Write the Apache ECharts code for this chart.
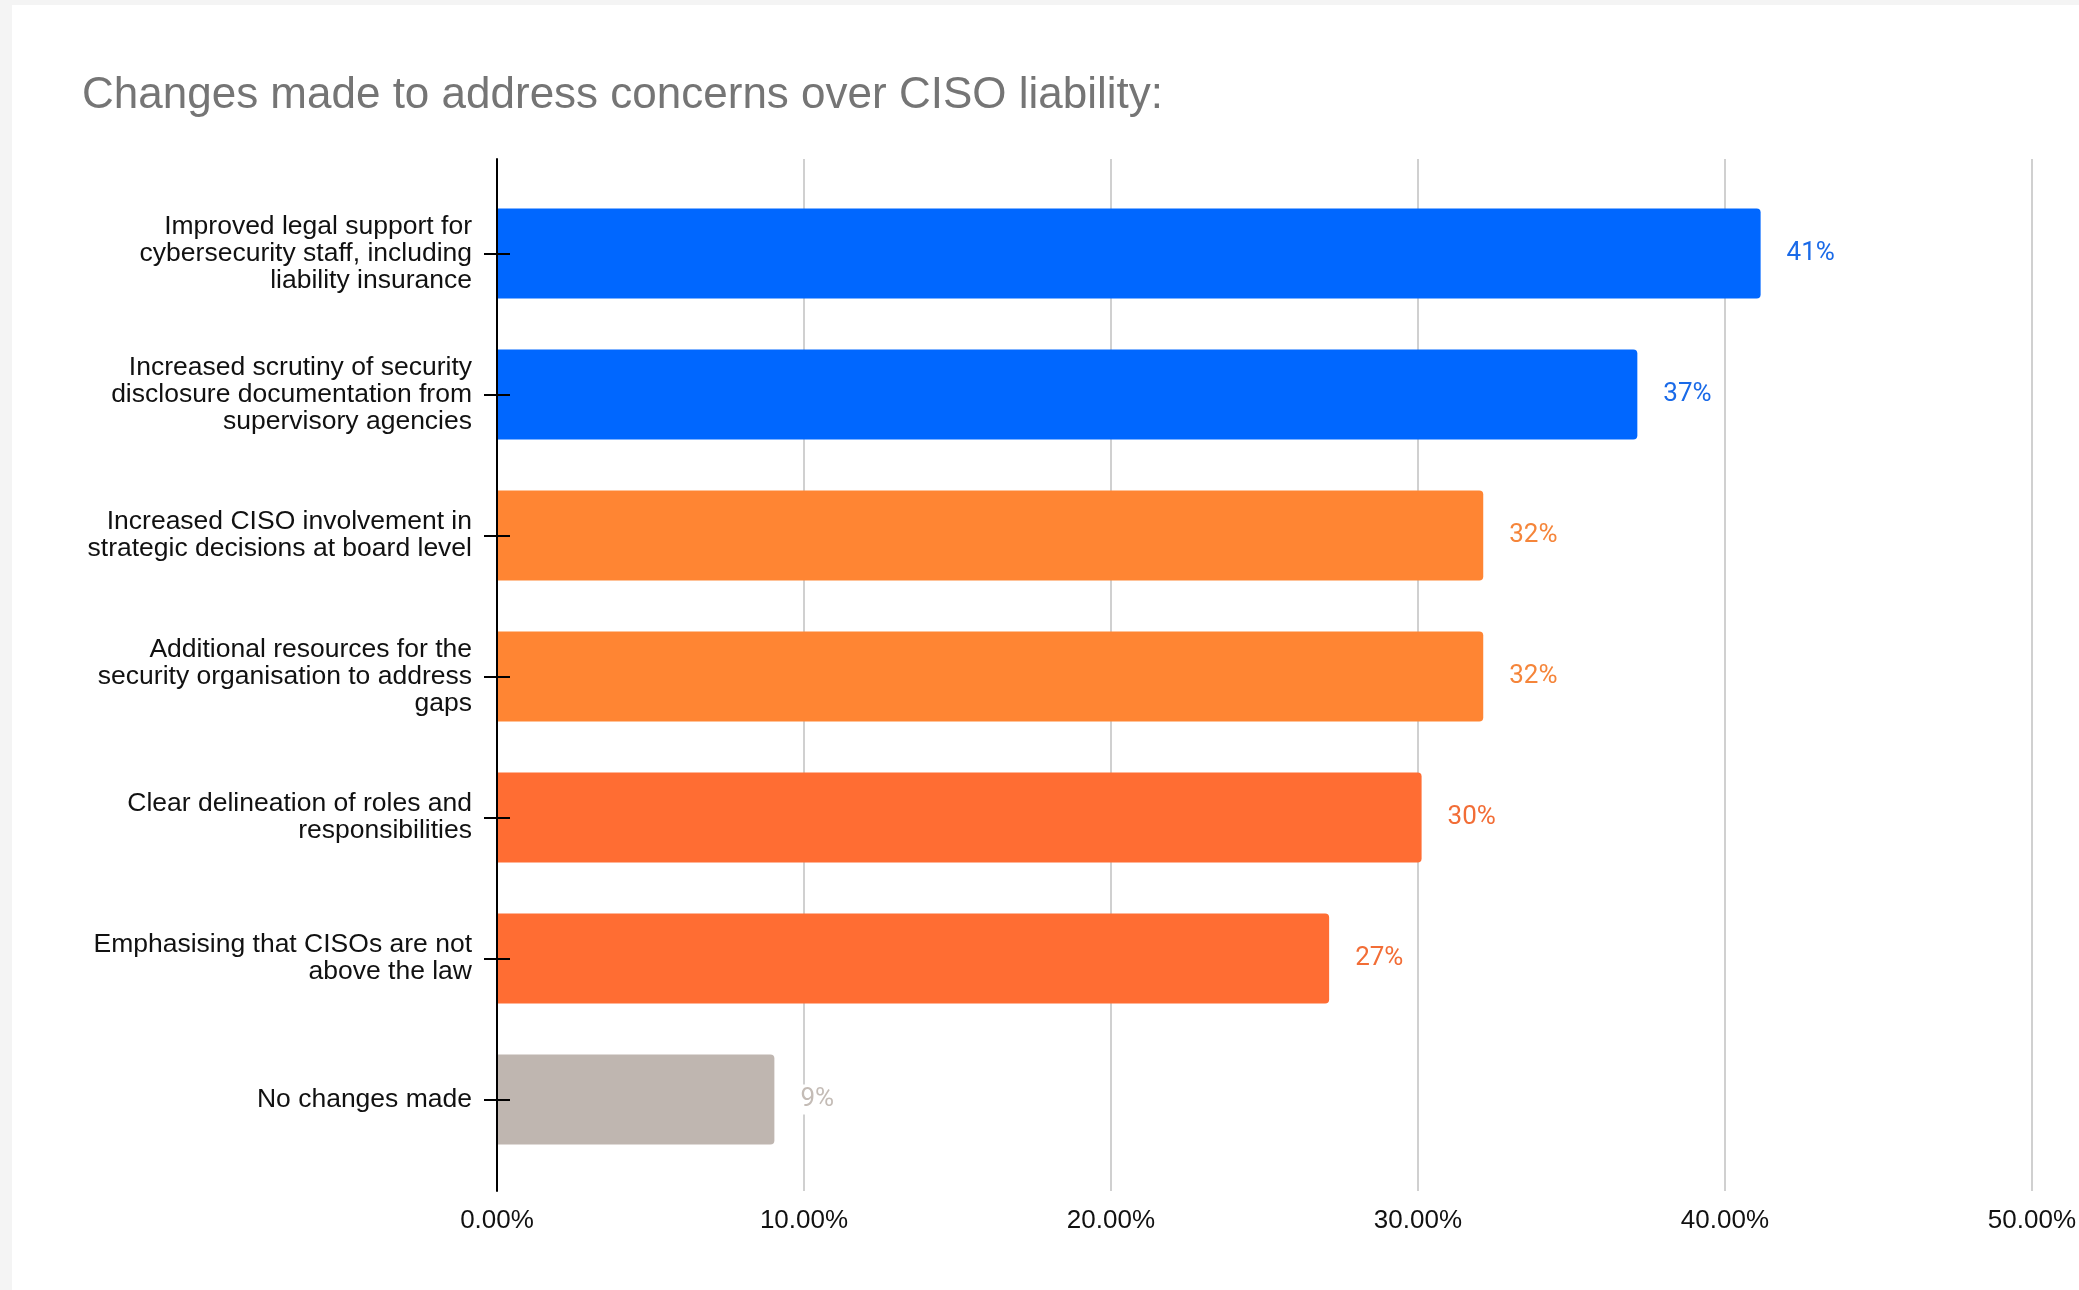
<!DOCTYPE html>
<html>
<head>
<meta charset="utf-8">
<title>Changes made to address concerns over CISO liability</title>
<script src="https://cdn.jsdelivr.net/npm/echarts@6/dist/echarts.min.js"></script>
<style>
  html, body { margin: 0; padding: 0; background: #f4f4f4; width: 2079px; height: 1290px; overflow: hidden; }
  #card { position: absolute; left: 12px; top: 5px; width: 2067px; height: 1285px; background: #ffffff; }
  #chart { width: 2067px; height: 1285px; }
</style>
</head>
<body>
<div id="card"><div id="chart"></div></div>
<script>
// Survey responses, top to bottom
const categories = [
  'Improved legal support for\ncybersecurity staff, including\nliability insurance',
  'Increased scrutiny of security\ndisclosure documentation from\nsupervisory agencies',
  'Increased CISO involvement in\nstrategic decisions at board level',
  'Additional resources for the\nsecurity organisation to address\ngaps',
  'Clear delineation of roles and\nresponsibilities',
  'Emphasising that CISOs are not\nabove the law',
  'No changes made'
];
const values = [41, 37, 32, 32, 30, 27, 9];
const barColors = ['#0067ff', '#0067ff', '#ff8533', '#ff8533', '#ff6d33', '#ff6d33', '#bfb6b0'];
const labelColors = ['#1a6ae8', '#1a6ae8', '#f5853a', '#f5853a', '#f26d36', '#f26d36', '#c4bcb6'];
const xTicks = [0, 10, 20, 30, 40, 50];

const xMin = xTicks[0];
const xMax = xTicks[xTicks.length - 1];
const xStep = xTicks[1] - xTicks[0];

const chart = echarts.init(document.getElementById('chart'));

const plotLeft = 485, plotWidth = 1541;

chart.setOption({
  animation: false,
  title: {
    text: 'Changes made to address concerns over CISO liability:',
    left: 70,
    top: 69,
    padding: 0,
    textStyle: { fontFamily: 'Liberation Sans, Arial, sans-serif', fontSize: 44, fontWeight: 'normal', color: '#757575' }
  },
  grid: [
    // frame: gridlines, axis line and percentage ticks
    { left: plotLeft, top: 154, width: plotWidth, height: 1032 },
    // bar band area
    { left: plotLeft, top: 178, width: plotWidth, height: 987 }
  ],
  xAxis: [
    {
      gridIndex: 0, type: 'value', min: xMin, max: xMax, interval: xStep,
      axisLine: { show: false }, axisTick: { show: false },
      splitLine: { show: true, lineStyle: { color: '#d0d0d0', width: 2 } },
      axisLabel: {
        margin: 17,
        fontFamily: 'Liberation Sans, Arial, sans-serif', fontSize: 26, color: '#111',
        formatter: v => v.toFixed(2) + '%'
      }
    },
    {
      gridIndex: 1, type: 'value', min: xMin, max: xMax, interval: xStep,
      show: false
    }
  ],
  yAxis: [
    {
      gridIndex: 0, type: 'value', min: 0, max: 1, position: 'left',
      axisLine: { show: true, lineStyle: { color: '#000', width: 2 } },
      axisTick: { show: false }, axisLabel: { show: false }, splitLine: { show: false },
      z: 5
    },
    {
      gridIndex: 1, type: 'category', data: categories, inverse: true, position: 'left',
      axisLine: { show: false },
      axisTick: { show: true, alignWithLabel: true, length: 13, lineStyle: { color: '#000', width: 2 } },
      axisLabel: {
        margin: 25, align: 'right',
        fontFamily: 'Liberation Sans, Arial, sans-serif', fontSize: 26.5, lineHeight: 27, color: '#111'
      },
      splitLine: { show: false },
      z: 5
    },
    {
      gridIndex: 1, type: 'category', data: categories, inverse: true, position: 'left',
      axisLine: { show: false },
      axisTick: { show: true, inside: true, alignWithLabel: true, length: 13, lineStyle: { color: '#000', width: 2 } },
      axisLabel: { show: false },
      splitLine: { show: false },
      z: 5
    }
  ],
  series: [
    {
      type: 'bar',
      xAxisIndex: 1,
      yAxisIndex: 1,
      barWidth: 90,
      data: values.map((v, i) => ({
        value: v,
        itemStyle: { color: barColors[i], borderRadius: [0, 4, 4, 0] },
        label: { color: labelColors[i] }
      })),
      label: {
        show: true,
        position: 'right',
        distance: 22,
        formatter: '{c}%',
        fontFamily: 'Roboto, sans-serif',
        fontSize: 26,
        backgroundColor: '#ffffff',
        padding: [2, 4]
      }
    }
  ]
});
</script>
</body>
</html>
